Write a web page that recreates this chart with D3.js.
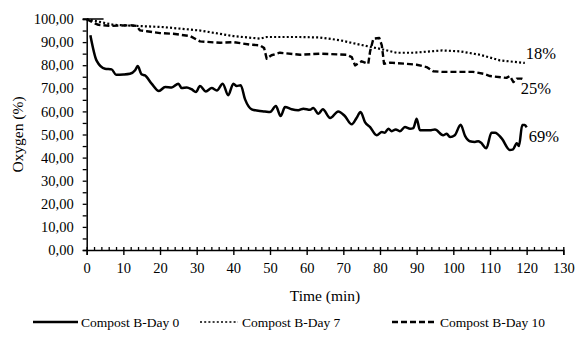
<!DOCTYPE html>
<html><head><meta charset="utf-8">
<script src="https://cdn.jsdelivr.net/npm/d3@7"></script>
<style>
html,body{margin:0;padding:0;background:#fff;}
svg text{font-family:"Liberation Serif","Times New Roman",Times,serif !important;fill:#000;}
</style></head>
<body><svg id="c" width="576" height="340" font-family="Liberation Serif"></svg>
<script>
const xTicks = [0,10,20,30,40,50,60,70,80,90,100,110,120,130];
const yTicks = [0,10,20,30,40,50,60,70,80,90,100];
const seriesNames = ["Compost B-Day 0","Compost B-Day 7","Compost B-Day 10"];
const endLabels = ["69%","18%","25%"];

const day0Time = [1,2.7,5,6.8,8,10,11.8,13.2,13.9,15,15.9,17.7,19.7,21.4,23.2,25,25.9,27.3,28.6,29.8,30.9,32.5,34.1,35.5,37.1,38.6,40,40.9,42,43.2,45,46.8,48.6,50,51.6,52.9,54.1,55.9,57.7,59.1,60.9,61.8,63.2,64.4,66.4,68.6,70.4,72.3,73.6,74.7,75.9,77.3,79.1,80.5,81.3,82.3,83.2,84.3,85.4,86.8,88.2,89.1,90,90.9,93.6,95,97.2,98.2,99.1,100.4,102,103.2,104.5,105.9,106.8,107.5,109,110.4,111.4,113.2,115.4,116.3,117.3,117.9,118.8,119.5,120];
const day0Oxygen = [93,82,78.5,78.2,75.9,76,76.3,77.8,79.6,76,75.6,72,68.8,70.6,70.4,72,70.1,70.4,69.6,68.4,71,68.6,70.1,69.1,72,67,72,71,71.3,65.2,60.9,60.3,60,59.7,62.3,58,61.9,60.9,60.5,61.2,60.7,61.5,59,60.9,57.1,60,58,54.4,57.1,59.7,55.4,53.2,49.7,51.1,50.8,52.5,51.4,52.2,51.4,53.2,52.5,52.8,56.8,51.8,51.8,52.2,49.7,50.3,48.9,49.7,54.2,49.4,47.1,46.8,47.1,46.5,44,50.8,50.8,48.3,43.3,43.6,46.2,45,54.1,54.1,53.1];

const day7Time = [0,7.3,13.6,20.9,31,40,47.3,49.1,58.2,63.6,69.1,74.5,80,84.5,89.1,97,101.8,107.3,112.7,118.6,119.5];
const day7Oxygen = [99.9,97.5,97,96.5,95,92.6,91.5,92.2,92.2,92,90.8,88.9,87.1,85.4,85.4,86.4,86,84.5,82.1,81.1,81];

const day10Time = [0,1.8,3.2,6.4,11.8,13.6,14.5,16.4,20,23.6,28.2,30.9,36.4,40,44.5,47.3,48.4,49.1,50.4,52.7,58.2,63.6,70.9,72.3,73.2,75,76.8,77.3,78.2,79.8,80.5,81.1,82.7,87.3,90,92.7,94.5,97,105.4,108.2,110,114.5,115.4,116.4,117.3,118.6,119.5];
const day10Oxygen = [99.9,98.4,97.5,97,97.3,97,95.1,94.7,93.9,93.6,92.6,90.3,89.7,90,88.9,88.6,87.4,82.8,84.3,85.4,84.5,85,84.5,83.5,79.9,81.7,80.6,86,91.5,91.8,88.6,80.6,81.1,80.6,80.2,79.2,77.4,77.1,77.1,76.3,75.3,74.5,75.3,72.7,74.2,74.2,73.6];

const FONT = "Liberation Serif";
const svg = d3.select("#c");
const x = d3.scaleLinear().domain([0,130]).range([86.7,563.3]);
const y = d3.scaleLinear().domain([0,100]).range([250,19]);

// Y axis
const yAxis = svg.append("g").attr("transform",`translate(${x(0)},0)`)
  .call(d3.axisLeft(y).tickValues(yTicks).tickSize(4).tickPadding(9)
    .tickFormat(d => d3.format(".2f")(d).replace(".",",")));
yAxis.attr("font-family",FONT).attr("font-size",14.5);
yAxis.select(".domain").attr("stroke","#000").attr("stroke-width",1.5);
yAxis.selectAll("line").attr("stroke-width",1.3);
yAxis.selectAll("text").attr("font-size",14.5).attr("font-family",FONT);
svg.append("g").attr("transform",`translate(${x(0)},0)`)
  .call(d3.axisLeft(y).tickValues(d3.range(5,100,10)).tickSize(4).tickFormat(""))
  .call(g=>{g.select(".domain").remove(); g.selectAll("line").attr("stroke-width",1.3);});

// X axis
const xAxis = svg.append("g").attr("transform",`translate(0,${y(0)})`)
  .call(d3.axisBottom(x).tickValues(xTicks).tickSize(5).tickPadding(8));
xAxis.attr("font-family",FONT).attr("font-size",14.5);
xAxis.select(".domain").attr("stroke","#000").attr("stroke-width",1.5);
xAxis.selectAll("line").attr("stroke-width",1.4).attr("y1",-3);
xAxis.selectAll("text").attr("font-size",14.5).attr("font-family",FONT);
svg.append("g").attr("transform",`translate(0,${y(0)})`)
  .call(d3.axisTop(x).tickValues(d3.range(0,131,2).filter(v=>v%10!==0)).tickSize(3).tickFormat(""))
  .call(g=>{g.select(".domain").remove(); g.selectAll("line").attr("stroke-width",1.3);});

// short top border segment at 100
svg.append("line").attr("x1",x(0)-4).attr("x2",x(4.6)).attr("y1",y(100)).attr("y2",y(100))
  .attr("stroke","#000").attr("stroke-width",1.5);

// Axis titles
svg.append("text").attr("x",x(65)).attr("y",301).attr("text-anchor","middle").attr("font-size",15.5)
  .attr("font-family",FONT).text("Time (min)");
svg.append("text").attr("transform",`translate(23,${y(50)}) rotate(-90)`).attr("text-anchor","middle")
  .attr("font-size",15.5).attr("font-family",FONT).text("Oxygen (%)");

const series = [
  {t:day0Time, v:day0Oxygen, dash:null, w:2.5, curve:d3.curveMonotoneX},
  {t:day7Time, v:day7Oxygen, dash:"2,2.2", w:2.2, curve:d3.curveLinear},
  {t:day10Time, v:day10Oxygen, dash:"6,3", w:2.4, curve:d3.curveLinear}
];
series.forEach(s=>{
  const pts = s.t.map((t,i)=>[t,s.v[i]]);
  const line = d3.line().x(d=>x(d[0])).y(d=>y(d[1])).curve(s.curve);
  svg.append("path").datum(pts).attr("d",line).attr("fill","none").attr("stroke","#000")
    .attr("stroke-width",s.w).attr("stroke-dasharray",s.dash).attr("stroke-linejoin","round");
});

// end labels
const lastOf = i => [series[i].t[series[i].t.length-1], series[i].v[series[i].v.length-1]];
const lab = (txt,xx,yy)=>svg.append("text").attr("x",xx).attr("y",yy).attr("font-size",16.5)
  .attr("font-family",FONT).text(txt);
lab(endLabels[0], x(lastOf(0)[0])+2, 142);
lab(endLabels[1], x(lastOf(1)[0])+1, 59);
lab(endLabels[2], x(lastOf(2)[0])-4, 94);

// legend
const legY = 322;
const leg = [{x1:33,x2:78,tx:81},{x1:200,x2:238,tx:242},{x1:392,x2:436,tx:440}];
leg.forEach((l,i)=>{
  svg.append("line").attr("x1",l.x1).attr("x2",l.x2).attr("y1",legY).attr("y2",legY)
    .attr("stroke","#000").attr("stroke-width",i===1?1.7:series[i].w).attr("stroke-dasharray",series[i].dash);
  svg.append("text").attr("x",l.tx).attr("y",legY+4.5).attr("font-size",13.5)
    .attr("font-family",FONT).text(seriesNames[i]);
});
</script></body></html>
